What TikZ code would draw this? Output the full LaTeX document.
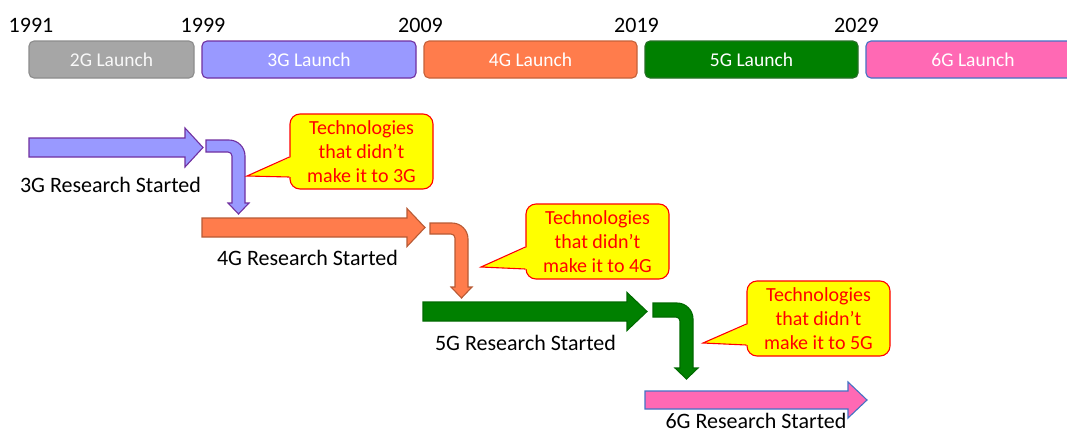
\documentclass[tikz,border=0pt]{standalone}
\usepackage{fontspec}
\setmainfont{Carlito}
\definecolor{gfill}{HTML}{A6A6A6}
\definecolor{gline}{HTML}{8C8C8C}
\definecolor{pfill}{HTML}{9999FF}
\definecolor{pline}{HTML}{7030A0}
\definecolor{ofill}{HTML}{FF7C4C}
\definecolor{oline}{HTML}{B85A34}
\definecolor{vfill}{HTML}{008000}
\definecolor{vline}{HTML}{006A00}
\definecolor{kfill}{HTML}{FF69B4}
\definecolor{kline}{HTML}{4472C4}
\definecolor{cfill}{HTML}{FFFF00}
\definecolor{cline}{HTML}{FF0000}

% straight block arrow: style, x start, x head, x tip, y centre, half shaft, half head
\newcommand\blockarrow[7]{%
  \draw[#1] (#2,{#5-#6}) -- (#3,{#5-#6}) -- (#3,{#5-#7}) -- (#4,#5)
    -- (#3,{#5+#7}) -- (#3,{#5+#6}) -- (#2,{#5+#6}) -- cycle;}
% bent block arrow: style, x start, y top, y bottom, x left, x right, y head, y tip, overhang
\newcommand\bentarrow[9]{%
  \draw[#1] (#2,#3) -- ({#6-16},#3)
    .. controls ({#6-16*0.448},#3) and (#6,{#3+16*0.448}) .. (#6,{#3+16})
    -- (#6,#7) -- ({#6+#9},#7) -- ({(#5+#6)/2},#8) -- ({#5-#9},#7) -- (#5,#7)
    -- (#5,{#4+4}) .. controls (#5,{#4+4*0.448}) and ({#5-4*0.448},#4) .. ({#5-4},#4)
    -- (#2,#4) -- cycle;}
% callout pointer: node, tip x, tip y, upper y, lower y
\newcommand\pointer[5]{%
  \fill[cfill] ([xshift=2pt]#1.west |- 0,#4) -- (#2,#3) -- ([xshift=2pt]#1.west |- 0,#5) -- cycle;
  \draw[cline, line width=1.1pt, line join=miter] (#1.west |- 0,#4) -- (#2,#3) -- (#1.west |- 0,#5);}

\begin{document}
\begin{tikzpicture}[x=1pt,y=-1pt,
  year/.style={anchor=base, font=\fontsize{22}{26}\selectfont, text=black},
  launch/.style={draw, line width=1.1pt, rounded corners=5pt, inner sep=0pt,
    minimum height=37pt, text=white, font=\fontsize{19.5}{23}\selectfont},
  research/.style={anchor=base, inner sep=0pt, font=\fontsize{22}{26}\selectfont, text=black},
  callout/.style={draw=cline, fill=cfill, line width=1.1pt, rounded corners=10pt,
    inner sep=0pt, minimum width=143pt, minimum height=75pt, align=center,
    text=cline, font=\fontsize{20}{24}\selectfont},
  blk/.style={line width=1.1pt, line join=miter}]
\useasboundingbox (0,0) rectangle (1067,434);

% time line
\node[year] (y1) at (31,32) {1991};
\node[year] (y2) at (203,32) {1999};
\node[year] (y3) at (420.5,32) {2009};
\node[year] (y4) at (636.5,32) {2019};
\node[year] (y5) at (856.5,32) {2029};

\node[launch, fill=gfill, draw=gline, minimum width=165pt, text=white!95!gray] (l2) at (111.5,59.5) {2G Launch};
\node[launch, fill=pfill, draw=pline, minimum width=214pt] (l3) at (309,59.5) {3G Launch};
\node[launch, fill=ofill, draw=oline!80!ofill, minimum width=213pt] (l4) at (530.5,59.5) {4G Launch};
\node[launch, fill=vfill, draw=vline!70!gray, minimum width=213pt] (l5) at (751.5,59.5) {5G Launch};
\node[launch, fill=kfill, draw=kline, minimum width=214pt] (l6) at (973,59.5) {6G Launch};

% research arrows
\blockarrow{blk, fill=pfill, draw=pline}{29}{185}{203}{147.5}{9.5}{19.5}
\blockarrow{blk, fill=ofill, draw=oline}{202}{407}{425}{227.5}{9.5}{19}
\blockarrow{blk, fill=vfill, draw=vline}{423}{627}{647}{311.5}{9.5}{19}
\blockarrow{blk, fill=kfill, draw=kline}{645}{848}{867}{400}{9}{18}

\node[research] (r3) at (110.5,192) {3G Research Started};
\node[research] (r4) at (307.5,265) {4G Research Started};
\node[research] (r5) at (525.5,350) {5G Research Started};
\node[research] (r6) at (756,428.5) {6G Research Started};

% leftover technologies
\bentarrow{blk, fill=pfill, draw=pline}{206}{140}{152}{232}{245}{203}{214}{4}
\bentarrow{blk, fill=ofill, draw=oline}{430}{223}{234}{455}{468}{287}{298}{4}
\bentarrow{blk, fill=vfill, draw=vline}{653}{303}{317}{680}{693}{368}{379}{5}

\node[callout] (c3) at (361.5,151.5) {Technologies\\that didn’t\\make it to 3G};
\node[callout] (c4) at (597.5,241.5) {Technologies\\that didn’t\\make it to 4G};
\node[callout] (c5) at (818.5,318.5) {Technologies\\that didn’t\\make it to 5G};

\pointer{c3}{247}{176}{157}{177}
\pointer{c4}{481}{267}{247}{269}
\pointer{c5}{703}{343}{324}{345}
\end{tikzpicture}
\end{document}
